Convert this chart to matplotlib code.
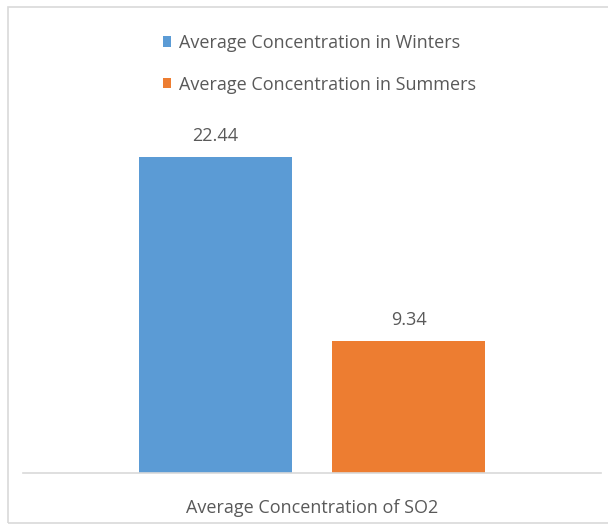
import matplotlib
matplotlib.use("Agg")
import matplotlib.pyplot as plt
from matplotlib.patches import Rectangle

# Data
category = "Average Concentration of SO2"
series_labels = ["Average Concentration in Winters", "Average Concentration in Summers"]
series_values = [22.44, 9.34]
series_colors = ["#5B9BD5", "#ED7D31"]

plt.rcParams["font.family"] = ["Open Sans", "DejaVu Sans"]
text_color = "#595959"
fs = 13

W, H = 608, 529
fig = plt.figure(figsize=(W / 100, H / 100), dpi=100)

# Light chart-area frame (open on the right)
fig.patches.append(Rectangle((8 / W, 1 - 523 / H), 1.2, (523 - 7) / H,
                             transform=fig.transFigure, fill=False,
                             edgecolor="#D9D9D9", linewidth=1.2))

ax = fig.add_axes([23 / W, 56 / H, 578 / W, 352 / H])
ax.set_xlim(-0.5, 0.5)
ax.set_ylim(0, 25)

offset = 0.1675
width = 0.265
positions = [-offset, offset]
bars = []
for pos, val, col, lab in zip(positions, series_values, series_colors, series_labels):
    b = ax.bar(pos, val, width=width, color=col, label=lab)
    bars.append(b)
    ax.annotate(f"{val:.2f}", (pos, val), xytext=(0, 9), textcoords="offset points",
                ha="center", va="bottom", fontsize=fs, color=text_color)

for s in ["left", "right", "top"]:
    ax.spines[s].set_visible(False)
ax.spines["bottom"].set_color("#D9D9D9")
ax.spines["bottom"].set_linewidth(1.2)
ax.set_yticks([])
ax.set_xticks([0])
ax.set_xticklabels([category], fontsize=fs, color=text_color)
ax.tick_params(axis="x", length=0, pad=19)

fig.legend(handles=[b for b in bars], labels=series_labels,
           loc="upper left", bbox_to_anchor=(154 / W, 1 - 25 / H),
           frameon=False, borderpad=0, fontsize=fs,
           handlelength=0.45, handleheight=0.5, handletextpad=0.45,
           labelspacing=1.3, labelcolor=text_color)

fig.savefig("out.png", dpi=100)
